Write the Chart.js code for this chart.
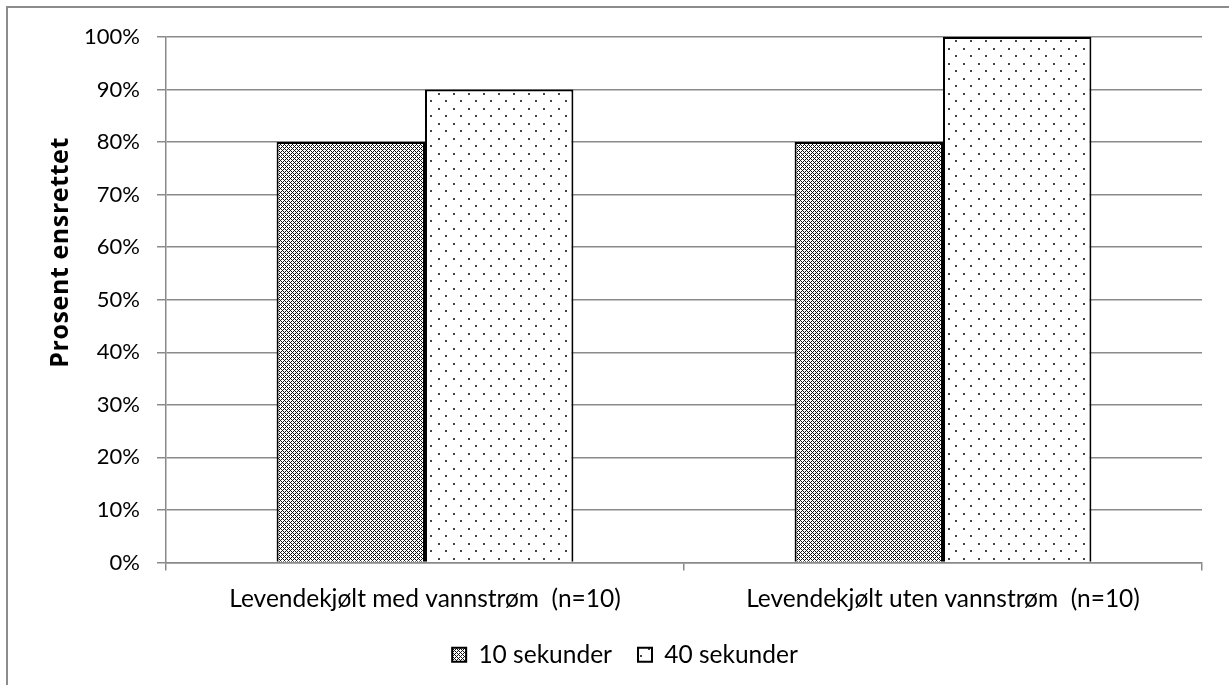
<!DOCTYPE html>
<html>
<head>
<meta charset="utf-8">
<script src="https://cdn.jsdelivr.net/npm/chart.js@4/dist/chart.umd.min.js"></script>
<style>
  html, body { margin: 0; padding: 0; background: #fff; }
  #wrap { width: 1229px; height: 685px; position: relative; }
</style>
</head>
<body>
<div id="wrap"><canvas id="chart" width="1229" height="685"></canvas></div>
<script>
// Categories and values (share of fish aligned)
const categories = ['Levendekjølt med vannstrøm  (n=10)', 'Levendekjølt uten vannstrøm  (n=10)'];
const seriesNames = ['10 sekunder', '40 sekunder'];
const values10s = [0.8, 0.8];
const values40s = [0.9, 1.0];
const yTicks = [0, 0.1, 0.2, 0.3, 0.4, 0.5, 0.6, 0.7, 0.8, 0.9, 1.0];
const yTitle = 'Prosent ensrettet';

const FONT = 'Lato, "Open Sans", sans-serif';
const GRID = '#8a8a8a';

// Dense diagonal cross-hatch fill
function hatchPattern() {
  const c = document.createElement('canvas');
  c.width = 4; c.height = 4;
  const g = c.getContext('2d');
  g.fillStyle = '#ffffff';
  g.fillRect(0, 0, 4, 4);
  g.fillStyle = '#111111';
  for (let x = 0; x < 4; x++) {
    for (let y = 0; y < 4; y++) {
      if ((x + y) % 4 === 0 || (x - y + 4) % 4 === 0) g.fillRect(x, y, 1, 1);
    }
  }
  return g.createPattern(c, 'repeat');
}

// Sparse staggered dot fill
function dotPattern() {
  const c = document.createElement('canvas');
  c.width = 15; c.height = 15;
  const g = c.getContext('2d');
  g.fillStyle = '#ffffff';
  g.fillRect(0, 0, 15, 15);
  g.fillStyle = '#444444';
  g.fillRect(3, 3, 2, 2);
  g.fillRect(10, 10, 2, 2);
  return g.createPattern(c, 'repeat');
}

// Frame lines along the top and left edges of the figure
const framePlugin = {
  id: 'frame',
  beforeDraw(chart) {
    const ctx = chart.ctx;
    ctx.save();
    ctx.fillStyle = '#fff';
    ctx.fillRect(0, 0, chart.width, chart.height);
    ctx.strokeStyle = '#8c8c8c';
    ctx.lineWidth = 2;
    ctx.beginPath();
    ctx.moveTo(7, chart.height + 2);
    ctx.lineTo(7, 7);
    ctx.lineTo(chart.width + 2, 7);
    ctx.stroke();
    ctx.restore();
  }
};

// Rotated value-axis title, sitting in the upper part of the axis band
const axisTitlePlugin = {
  id: 'axisTitle',
  afterDraw(chart) {
    const ctx = chart.ctx;
    const area = chart.chartArea;
    ctx.save();
    ctx.translate(61, area.top + (area.bottom - area.top) * 0.41);
    ctx.rotate(-Math.PI / 2);
    ctx.font = 'bold 25px "Open Sans", Lato, sans-serif';
    if ('letterSpacing' in ctx) ctx.letterSpacing = '0.6px';
    ctx.fillStyle = '#000';
    ctx.textAlign = 'center';
    ctx.textBaseline = 'middle';
    ctx.fillText(yTitle, 0, 0);
    ctx.restore();
  }
};

new Chart(document.getElementById('chart'), {
  type: 'bar',
  data: {
    labels: categories,
    datasets: [
      {
        label: seriesNames[0],
        data: values10s,
        backgroundColor: hatchPattern(),
        borderColor: '#000',
        borderWidth: 2
      },
      {
        label: seriesNames[1],
        data: values40s,
        backgroundColor: dotPattern(),
        borderColor: '#000',
        borderWidth: 2
      }
    ]
  },
  options: {
    responsive: false,
    animation: false,
    devicePixelRatio: 1,
    layout: { padding: { left: 48, top: 37, right: 27, bottom: 8 } },
    datasets: { bar: { categoryPercentage: 0.573, barPercentage: 1.0 } },
    plugins: {
      legend: {
        position: 'bottom',
        labels: {
          color: '#000',
          font: { family: FONT, size: 24.5 },
          boxWidth: 14,
          boxHeight: 14,
          padding: 26
        }
      },
      tooltip: { enabled: false }
    },
    scales: {
      x: {
        grid: {
          drawOnChartArea: false,
          drawTicks: true,
          tickLength: 8,
          color: GRID,
          lineWidth: 1.5,
          offset: true
        },
        border: { color: GRID, width: 1.5 },
        ticks: {
          color: '#000',
          font: { family: FONT, size: 24.5 },
          padding: 14,
          maxRotation: 0,
          autoSkip: false
        },
        afterFit(scale) { scale.height = 54; }
      },
      y: {
        min: 0,
        max: 1,
        afterBuildTicks(scale) { scale.ticks = yTicks.map(v => ({ value: v })); },
        grid: { color: GRID, lineWidth: 1.5, tickLength: 9, drawTicks: true },
        border: { color: GRID, width: 1.5 },
        ticks: {
          color: '#000',
          font: { family: FONT, size: 22 },
          padding: 17,
          callback: v => Math.round(v * 100) + '%'
        },
        title: { display: false, text: yTitle },
        afterFit(scale) { scale.width = 118; }
      }
    }
  },
  plugins: [framePlugin, axisTitlePlugin]
});
</script>
</body>
</html>
